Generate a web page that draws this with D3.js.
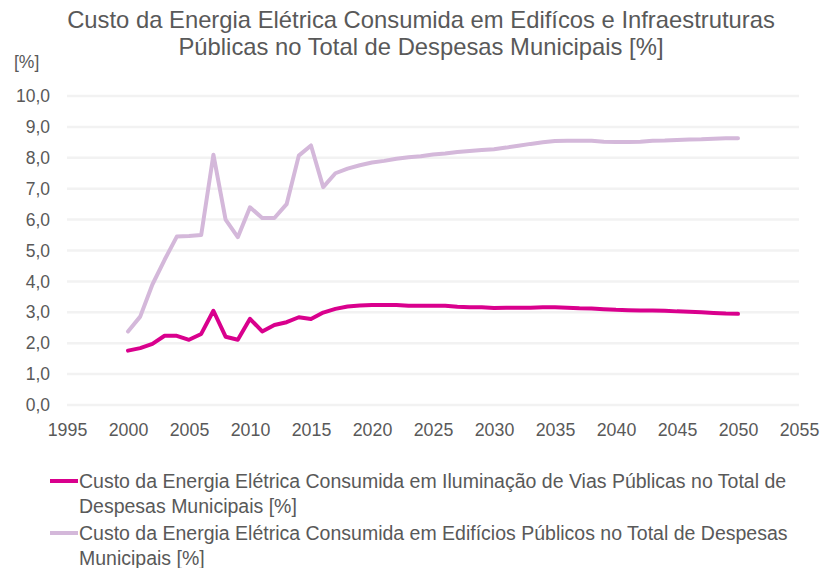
<!DOCTYPE html>
<html>
<head>
<meta charset="utf-8">
<script src="https://cdn.jsdelivr.net/npm/d3@7"></script>
<style>
  html, body { margin: 0; padding: 0; background: #fff; }
  svg { display: block; font-family: "Liberation Sans", Arial, sans-serif; }
</style>
</head>
<body>
<svg id="chart" width="825" height="568"></svg>
<script>
// Years 2000–2050
const years = d3.range(2000, 2051);

// Street lighting share of municipal expenses [%]
const iluminacaoVias = [
  1.76, 1.84, 1.98, 2.24, 2.24, 2.11, 2.30, 3.05, 2.21, 2.11,
  2.79, 2.38, 2.59, 2.68, 2.84, 2.78, 2.99, 3.11, 3.19, 3.22,
  3.24, 3.24, 3.24, 3.21, 3.21, 3.21, 3.21, 3.18, 3.16, 3.16,
  3.14, 3.15, 3.15, 3.15, 3.16, 3.16, 3.15, 3.13, 3.12, 3.10,
  3.08, 3.07, 3.06, 3.06, 3.05, 3.03, 3.02, 3.00, 2.98, 2.96,
  2.95
];

// Public buildings share of municipal expenses [%]
const edificiosPublicos = [
  2.38, 2.86, 3.90, 4.70, 5.45, 5.47, 5.50, 8.10, 6.00, 5.43,
  6.40, 6.05, 6.05, 6.50, 8.07, 8.40, 7.05, 7.50, 7.65, 7.76,
  7.85, 7.90, 7.97, 8.02, 8.05, 8.11, 8.14, 8.19, 8.22, 8.25,
  8.28, 8.33, 8.39, 8.45, 8.50, 8.54, 8.55, 8.55, 8.55, 8.52,
  8.51, 8.51, 8.52, 8.55, 8.56, 8.58, 8.59, 8.60, 8.62, 8.63,
  8.63
];

const xTicks = d3.range(1995, 2056, 5);
const yTicks = d3.range(0, 10.01, 1);

const titleLines = [
  "Custo da Energia Elétrica Consumida em Edifícos e Infraestruturas",
  "Públicas no Total de Despesas Municipais [%]"
];
const yUnit = "[%]";

const seriesList = [
  { name: ["Custo da Energia Elétrica Consumida em Iluminação de Vias Públicas no Total de", "Despesas Municipais [%]"], values: iluminacaoVias, color: "#D9008D" },
  { name: ["Custo da Energia Elétrica Consumida em Edifícios Públicos no Total de Despesas", "Municipais [%]"], values: edificiosPublicos, color: "#D4B8DA" }
];

const svg = d3.select("#chart");
const textColor = "#595959";
const fontFamily = "Liberation Sans, Arial, sans-serif";

const x = d3.scaleLinear().domain([1995, 2055]).range([67, 799]);
const y = d3.scaleLinear().domain([0, 10]).range([405, 96]);

// Title
svg.append("g").selectAll("text").data(titleLines).join("text")
  .attr("x", 421).attr("y", (d, i) => 28 + i * 27)
  .attr("text-anchor", "middle")
  .attr("font-size", 23.8)
  .attr("fill", textColor)
  .text(d => d);

// Unit label
svg.append("text").attr("x", 14).attr("y", 68)
  .attr("font-size", 17.5).attr("fill", textColor).text(yUnit);

// Horizontal gridlines
svg.append("g").selectAll("line").data(yTicks).join("line")
  .attr("x1", x(1995)).attr("x2", x(2055))
  .attr("y1", d => y(d)).attr("y2", d => y(d))
  .attr("stroke", "#F2F2F2").attr("stroke-width", 2.5);

// Y axis labels
const yAxis = d3.axisLeft(y).tickValues(yTicks).tickSize(0).tickPadding(0)
  .tickFormat(d => d3.format(".1f")(d).replace(".", ","));
const gy = svg.append("g").attr("transform", "translate(50,0)").call(yAxis);
gy.select(".domain").remove();
gy.selectAll("text").attr("font-size", 17.5).attr("fill", textColor)
  .attr("font-family", fontFamily);

// X axis labels
const xAxis = d3.axisBottom(x).tickValues(xTicks).tickSize(0).tickPadding(0)
  .tickFormat(d3.format("d"));
const gx = svg.append("g").attr("transform", "translate(0,423)").call(xAxis);
gx.select(".domain").remove();
gx.selectAll("text").attr("font-size", 17.8).attr("fill", textColor)
  .attr("font-family", fontFamily);

// Series lines
const line = d3.line().x((d, i) => x(years[i])).y(d => y(d));
svg.append("g").selectAll("path").data(seriesList.slice().reverse()).join("path")
  .attr("d", d => line(d.values))
  .attr("fill", "none")
  .attr("stroke", d => d.color)
  .attr("stroke-width", 4)
  .attr("stroke-linejoin", "round")
  .attr("stroke-linecap", "round");

// Legend
const legend = svg.append("g");
seriesList.forEach((s, i) => {
  const top = 481 + i * 52;
  legend.append("line")
    .attr("x1", 50).attr("x2", 78).attr("y1", top).attr("y2", top)
    .attr("stroke", s.color).attr("stroke-width", 4);
  legend.append("g").selectAll("text").data(s.name).join("text")
    .attr("x", 79).attr("y", (d, j) => top + 7 + j * 25)
    .attr("font-size", 19.5).attr("fill", textColor)
    .text(d => d);
});
</script>
</body>
</html>
